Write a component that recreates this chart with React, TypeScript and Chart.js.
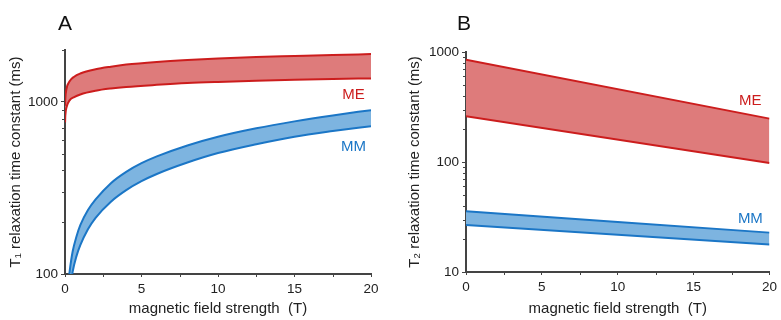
import React, { useEffect, useRef } from 'react';
import { Chart, registerables } from 'chart.js';
Chart.register(...registerables);

// ---------- Panel A (T1) data ----------
const FIELD_A_ME = [0.005, 0.02, 0.1, 0.3, 0.6, 1, 2, 3, 4, 6, 8, 10, 12.5, 15, 17.5, 20];
const T1_ME_UPPER = [950, 1040, 1190, 1315, 1400, 1460, 1545, 1600, 1645, 1705, 1750, 1785, 1820, 1845, 1870, 1893];
const T1_ME_LOWER = [760, 830, 930, 1020, 1065, 1104, 1160, 1195, 1220, 1255, 1285, 1305, 1325, 1342, 1356, 1368];
const FIELD_A_MM = [0.2, 0.3, 0.5, 0.75, 1, 1.5, 2, 3, 4, 5, 6, 8, 10, 12.5, 15, 17.5, 20];
const T1_MM_UPPER = [85, 103, 135, 165, 192, 235, 271, 337, 392, 440, 482, 558, 627, 702, 770, 834, 895];
const T1_MM_LOWER = [62, 77, 103, 127, 147, 182, 212, 263, 307, 346, 381, 444, 504, 567, 627, 676, 722];

// ---------- Panel B (T2) data ----------
const FIELD_B = [0, 20];
const T2_ME_UPPER = [850, 248];
const T2_ME_LOWER = [260, 98];
const T2_MM_UPPER = [35.6, 22.8];
const T2_MM_LOWER = [26.8, 17.8];

// ---------- ticks ----------
const X_TICKS = [0, 5, 10, 15, 20];
const X_MINOR = [2.5, 7.5, 12.5, 17.5];
const A_Y_TICKS = [100, 1000];
const A_Y_MINOR = [200, 300, 400, 500, 600, 700, 800, 900, 2000];
const B_Y_TICKS = [10, 100, 1000];
const B_Y_MINOR = [20, 30, 40, 50, 60, 70, 80, 90, 200, 300, 400, 500, 600, 700, 800, 900];

// ---------- curve labels (data coordinates) ----------
const A_LABEL_TEXT = ['ME', 'MM'];
const A_LABEL_X = [18.86, 18.86];
const A_LABEL_Y = [1094, 547];
const B_LABEL_TEXT = ['ME', 'MM'];
const B_LABEL_X = [18.74, 18.74];
const B_LABEL_Y = [360, 30.3];

const RED_LINE = '#cc1d1d';
const RED_FILL = '#de7b7b';
const BLUE_LINE = '#1b76c6';
const BLUE_FILL = '#7db4e0';
const AXIS = '#444444';
const TEXT = '#222222';
const FONT = 'Liberation Sans, Arial, sans-serif';

const pts = (xs: number[], ys: number[]) => xs.map((x, i) => ({ x, y: ys[i] }));

function makeDecor(cfg: any) {
  return {
    id: 'decor',
    afterDraw(chart: any) {
      const { ctx, chartArea, scales } = chart;
      const xs = scales.x;
      const ys = scales.y;
      ctx.save();
      ctx.strokeStyle = AXIS;
      ctx.lineWidth = 1;
      cfg.yMinor.forEach((v: number) => {
        const py = Math.round(ys.getPixelForValue(v)) + 0.5;
        ctx.beginPath();
        ctx.moveTo(chartArea.left - 3, py);
        ctx.lineTo(chartArea.left, py);
        ctx.stroke();
      });
      X_MINOR.forEach((v: number) => {
        const px = Math.round(xs.getPixelForValue(v)) + 0.5;
        ctx.beginPath();
        ctx.moveTo(px, chartArea.bottom);
        ctx.lineTo(px, chartArea.bottom + 3);
        ctx.stroke();
      });
      // curve labels
      ctx.font = `15px ${FONT}`;
      ctx.textAlign = 'center';
      ctx.textBaseline = 'middle';
      cfg.labelText.forEach((t: string, i: number) => {
        ctx.fillStyle = i === 0 ? RED_LINE : BLUE_LINE;
        ctx.fillText(t, xs.getPixelForValue(cfg.labelX[i]), ys.getPixelForValue(cfg.labelY[i]));
      });
      // panel letter
      ctx.font = `21px ${FONT}`;
      ctx.fillStyle = '#111';
      ctx.textAlign = 'left';
      ctx.textBaseline = 'alphabetic';
      ctx.fillText(cfg.letter, chartArea.left + cfg.letterDx, 30);
      ctx.restore();
    },
  };
}

function buildConfig(cfg: any): any {
  const line = { borderWidth: 2, pointRadius: 0, cubicInterpolationMode: 'monotone' };
  return {
    type: 'line',
    data: {
      datasets: [
        { ...line, data: cfg.meUpper, borderColor: RED_LINE, backgroundColor: RED_FILL, fill: '+1' },
        { ...line, data: cfg.meLower, borderColor: RED_LINE, backgroundColor: RED_FILL, fill: false },
        { ...line, data: cfg.mmUpper, borderColor: BLUE_LINE, backgroundColor: BLUE_FILL, fill: '+1' },
        { ...line, data: cfg.mmLower, borderColor: BLUE_LINE, backgroundColor: BLUE_FILL, fill: false },
      ],
    },
    options: {
      responsive: false,
      animation: false,
      events: [],
      layout: { padding: { left: 0, right: cfg.padRight, top: cfg.padTop, bottom: 0 } },
      plugins: {
        legend: { display: false },
        tooltip: { enabled: false },
        title: { display: false },
        filler: { drawTime: 'beforeDatasetsDraw' },
      },
      scales: {
        x: {
          type: 'linear',
          min: 0,
          max: 20,
          afterBuildTicks: (s: any) => { s.ticks = X_TICKS.map((v) => ({ value: v })); },
          afterFit: (s: any) => { s.height = cfg.xHeight; },
          ticks: { color: TEXT, font: { family: FONT, size: 13.5 }, padding: 4, maxRotation: 0, callback: (v: any) => String(v) },
          grid: { display: true, drawOnChartArea: false, drawTicks: true, tickLength: 3, color: AXIS, lineWidth: 1 },
          border: { display: true, color: AXIS, width: 2 },
          title: { display: true, text: 'magnetic field strength  (T)', color: TEXT, font: { family: FONT, size: 15 }, padding: { top: 4, bottom: 2 } },
        },
        y: {
          type: 'logarithmic',
          min: cfg.yMin,
          max: cfg.yMax,
          afterBuildTicks: (s: any) => { s.ticks = cfg.yTicks.map((v: number) => ({ value: v })); },
          afterFit: (s: any) => { s.width = cfg.yWidth; },
          ticks: { color: TEXT, font: { family: FONT, size: 13.5 }, padding: 3, callback: (v: any) => String(v) },
          grid: { display: true, drawOnChartArea: false, drawTicks: true, tickLength: 4, color: AXIS, lineWidth: 1 },
          border: { display: true, color: AXIS, width: 2 },
          title: { display: true, text: cfg.yTitle, color: TEXT, font: { family: FONT, size: 15 }, padding: { top: cfg.yTitlePad, bottom: 2 } },
        },
      },
    },
    plugins: [makeDecor(cfg)],
  };
}

const PANEL_A = {
  meUpper: pts(FIELD_A_ME, T1_ME_UPPER),
  meLower: pts(FIELD_A_ME, T1_ME_LOWER),
  mmUpper: pts(FIELD_A_MM, T1_MM_UPPER),
  mmLower: pts(FIELD_A_MM, T1_MM_LOWER),
  yMin: 100,
  yMax: 2000,
  yTicks: A_Y_TICKS,
  yMinor: A_Y_MINOR,
  yTitle: 'T\u2081 relaxation time constant (ms)',
  yTitlePad: 7,
  yWidth: 65,
  xHeight: 46,
  padTop: 50,
  padRight: 19,
  labelText: A_LABEL_TEXT,
  labelX: A_LABEL_X,
  labelY: A_LABEL_Y,
  letter: 'A',
  letterDx: -7,
};

const PANEL_B = {
  meUpper: pts(FIELD_B, T2_ME_UPPER),
  meLower: pts(FIELD_B, T2_ME_LOWER),
  mmUpper: pts(FIELD_B, T2_MM_UPPER),
  mmLower: pts(FIELD_B, T2_MM_LOWER),
  yMin: 10,
  yMax: 1000,
  yTicks: B_Y_TICKS,
  yMinor: B_Y_MINOR,
  yTitle: 'T\u2082 relaxation time constant (ms)',
  yTitlePad: 16,
  yWidth: 76,
  xHeight: 48,
  padTop: 52,
  padRight: 11,
  labelText: B_LABEL_TEXT,
  labelX: B_LABEL_X,
  labelY: B_LABEL_Y,
  letter: 'B',
  letterDx: -9,
};

function Panel({ cfg, width }: { cfg: any; width: number }) {
  const ref = useRef<HTMLCanvasElement | null>(null);
  useEffect(() => {
    if (!ref.current) return;
    const chart = new Chart(ref.current, buildConfig(cfg));
    return () => chart.destroy();
  }, [cfg]);
  return <canvas ref={ref} width={width} height={320} style={{ display: 'block', width, height: 320 }} />;
}

export default function App() {
  useEffect(() => {
    document.body.style.margin = '0';
  }, []);
  return (
    <div style={{ display: 'flex', width: 781, height: 320, background: '#fff' }}>
      <Panel cfg={PANEL_A} width={390} />
      <Panel cfg={PANEL_B} width={391} />
    </div>
  );
}
